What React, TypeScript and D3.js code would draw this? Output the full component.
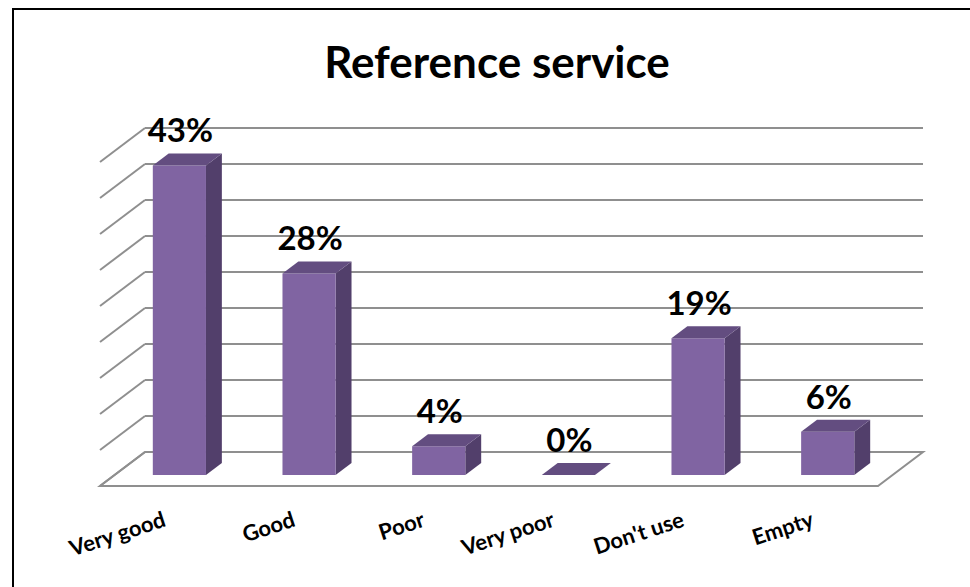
import React from 'react';
import * as d3 from 'd3';

const categories = ['Very good', 'Good', 'Poor', 'Very poor', "Don't use", 'Empty'];
const values = [43, 28, 4, 0, 19, 6];
const ticks = [0, 5, 10, 15, 20, 25, 30, 35, 40, 45];

const W = 970;
const H = 587;
// oblique depth of the floor and of a bar
const depthY = 34;
const depthX = 45;
const barZ0 = 11;
const barZ1 = 23;

const font = "Lato, 'Open Sans', sans-serif";

export default function App() {
  const x = d3.scaleBand<string>().domain(categories).range([145, 923]).paddingInner(0).paddingOuter(0);
  const y = d3.scaleLinear().domain([0, 45]).range([452, 128]);

  // project a point on the back wall plane moved forward by z pixels
  const P = (xb: number, v: number, z: number): [number, number] => [xb - (z * depthX) / depthY, y(v) + z];
  const pts = (arr: [number, number][]) => arr.map(p => p.join(',')).join(' ');

  const barW = x.bandwidth() * 0.41;
  const grid = '#8f8f8f';
  const xmin = x.range()[0];
  const xmax = x.range()[1];

  return (
    <svg width={W} height={H} style={{ position: 'absolute', left: 0, top: 0, background: '#fff' }}>
      <rect x={13} y={9} width={W} height={H} fill="#fff" stroke="#000" strokeWidth={2} />
      <text x={497} y={78} textAnchor="middle" fontFamily={font} fontWeight="bold" fontSize={44}>
        Reference service
      </text>

      {/* back wall gridlines + left wall diagonals */}
      {ticks.map(t => {
        const [lx, ly] = P(xmin, t, depthY);
        return (
          <g key={t} stroke={grid} strokeWidth={2} fill="none">
            <line x1={xmin} y1={y(t)} x2={xmax} y2={y(t)} />
            <line x1={lx} y1={ly} x2={xmin} y2={y(t)} />
          </g>
        );
      })}
      {/* floor */}
      <polygon
        points={pts([P(xmin, 0, 0), P(xmax, 0, 0), P(xmax, 0, depthY), P(xmin, 0, depthY)])}
        fill="none"
        stroke={grid}
        strokeWidth={2}
      />

      {/* bars */}
      {categories.map((c, i) => {
        const v = values[i];
        const cx = (x(c) as number) + x.bandwidth() / 2;
        const x0 = cx - barW / 2;
        const x1 = cx + barW / 2;
        const front = [P(x0, v, barZ1), P(x1, v, barZ1), P(x1, 0, barZ1), P(x0, 0, barZ1)] as [number, number][];
        const top = [P(x0, v, barZ1), P(x0, v, barZ0), P(x1, v, barZ0), P(x1, v, barZ1)] as [number, number][];
        const side = [P(x1, v, barZ1), P(x1, v, barZ0), P(x1, 0, barZ0), P(x1, 0, barZ1)] as [number, number][];
        const [fcx] = P(cx, v, barZ1);
        return (
          <g key={c}>
            <polygon points={pts(side)} fill="#523f6b" />
            <polygon points={pts(front)} fill="#8064a2" />
            <polygon points={pts(top)} fill="#634d80" />
            <text x={fcx + 1} y={y(v)} textAnchor="middle" fontFamily={font} fontWeight="bold" fontSize={33}>
              {v}%
            </text>
          </g>
        );
      })}

      {/* category labels */}
      {categories.map(c => {
        const [fx] = P((x(c) as number) + x.bandwidth() / 2, 0, depthY);
        const lx = fx + 2;
        const ly = 526;
        return (
          <text
            key={c}
            x={lx}
            y={ly}
            transform={`rotate(-18, ${lx}, ${ly})`}
            textAnchor="end"
            fontFamily={font}
            fontWeight="bold"
            fontSize={22}
          >
            {c}
          </text>
        );
      })}
    </svg>
  );
}
